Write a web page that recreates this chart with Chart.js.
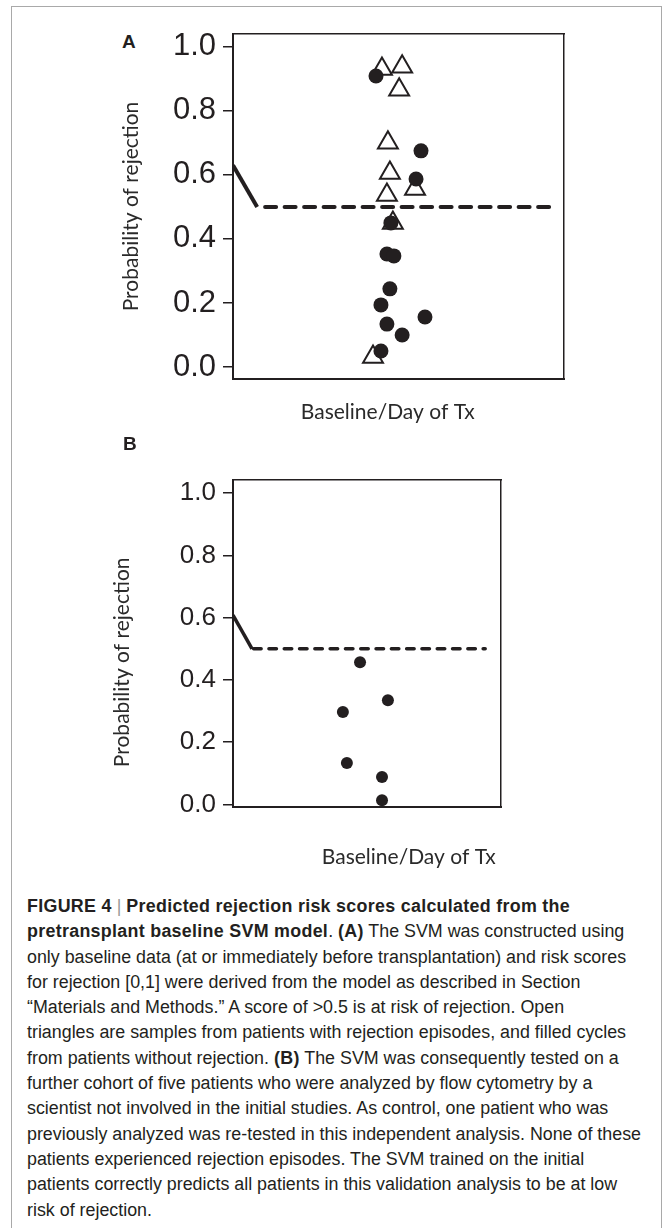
<!DOCTYPE html>
<html>
<head>
<meta charset="utf-8">
<script src="https://cdn.jsdelivr.net/npm/chart.js@4.4.1/dist/chart.umd.min.js"></script>
<style>
  body { margin: 0; background: #fff; }
  #frame { position: absolute; left: 11px; top: 6px; width: 651px; height: 1300px;
           border: 1.5px solid #a9a9a9; border-bottom: none; box-sizing: border-box; }
  canvas { position: absolute; left: 0; }
  .panel { position: absolute; font: bold 19px "Liberation Sans", Arial, sans-serif; color: #231f20; }
  #caption { position: absolute; left: 27px; top: 894px; white-space: nowrap;
             font: 17.85px/25.3px "Liberation Sans", Arial, sans-serif; color: #231f20; }
  #caption b { letter-spacing: 0.3px; }
  #caption .sep { font-weight: normal; color: #999; }
</style>
</head>
<body>
<div id="frame"></div>
<div class="panel" style="left:122px;top:31px">A</div>
<canvas id="chartA" width="664" height="440" style="top:0"></canvas>
<div class="panel" style="left:123px;top:433px">B</div>
<canvas id="chartB" width="664" height="440" style="top:440px"></canvas>
<div id="caption">
<b>FIGURE 4</b> <span class="sep">|</span> <b>Predicted rejection risk scores calculated from the</b><br>
<b>pretransplant baseline SVM model</b>. <b>(A)</b> The SVM was constructed using<br>
only baseline data (at or immediately before transplantation) and risk scores<br>
for rejection [0,1] were derived from the model as described in Section<br>
“Materials and Methods.” A score of &gt;0.5 is at risk of rejection. Open<br>
triangles are samples from patients with rejection episodes, and filled cycles<br>
from patients without rejection. <b>(B)</b> The SVM was consequently tested on a<br>
further cohort of five patients who were analyzed by flow cytometry by a<br>
scientist not involved in the initial studies. As control, one patient who was<br>
previously analyzed was re-tested in this independent analysis. None of these<br>
patients experienced rejection episodes. The SVM trained on the initial<br>
patients correctly predicts all patients in this validation analysis to be at low<br>
risk of rejection.
</div>
<script>
// ---- data ----
const probTicks = [0.0, 0.2, 0.4, 0.6, 0.8, 1.0];
const yTitle = 'Probability of rejection';
const xTitle = 'Baseline/Day of Tx';

// panel A: open triangles = rejection, filled dots = no rejection
const rejX = [45.0, 51.1, 50.2, 46.8, 47.4, 46.5, 55.0, 48.3, 42.3];
const rejY = [0.931, 0.938, 0.866, 0.70, 0.606, 0.537, 0.556, 0.45, 0.031];
const noRejX = [43.2, 56.8, 55.3, 47.7, 46.5, 48.6, 47.4, 44.7, 58.0, 46.5, 51.1, 44.7];
const noRejY = [0.909, 0.675, 0.587, 0.45, 0.353, 0.347, 0.244, 0.194, 0.156, 0.134, 0.10, 0.05];
// cut-off line (solid bit then dashed at 0.5)
const cutSolidXA = [0, 7.3], cutSolidYA = [0.63, 0.5];
const cutDashXA = [9.7, 96.4], cutDashYA = [0.5, 0.5];

// panel B: validation cohort
const valX = [47.4, 57.8, 41.0, 42.5, 55.6, 55.6];
const valY = [0.457, 0.335, 0.297, 0.133, 0.088, 0.014];
const cutSolidXB = [0, 7.1], cutSolidYB = [0.608, 0.5];
const cutDashXB = [7.7, 94.1], cutDashYB = [0.5, 0.5];

const ink = '#231f20';
const pts = (xs, ys) => xs.map((x, i) => ({x: x, y: ys[i]}));

function makeChart(id, cfg) {
    const fixW = w => (s => { s.width = w; });
    const fixH = h => (s => { s.height = h; });
    return new Chart(document.getElementById(id), {
        type: 'scatter',
        data: {
            datasets: [
                { // filled dots on top
                    data: pts(cfg.dotX, cfg.dotY), order: 0,
                    pointStyle: 'circle', pointRadius: cfg.dotR, borderWidth: 0,
                    backgroundColor: ink, borderColor: ink
                },
                { // open triangles
                    data: pts(cfg.triX, cfg.triY), order: 1,
                    pointStyle: 'triangle', pointRadius: 11.5, borderWidth: 2,
                    backgroundColor: '#fff', borderColor: ink
                },
                {
                    type: 'line', data: pts(cfg.solidX, cfg.solidY), order: 2,
                    showLine: true, pointRadius: 0, borderColor: ink, borderWidth: cfg.lineW,
                    borderCapStyle: 'butt', fill: false
                },
                {
                    type: 'line', data: pts(cfg.dashX, cfg.dashY), order: 2,
                    showLine: true, pointRadius: 0, borderColor: ink, borderWidth: cfg.lineW,
                    borderDash: cfg.dash, borderCapStyle: 'round', fill: false
                }
            ]
        },
        options: {
            responsive: false,
            animation: false,
            events: [],
            layout: { padding: cfg.pad },
            plugins: { legend: { display: false }, tooltip: { enabled: false } },
            scales: {
                x: {
                    type: 'linear', position: 'bottom', min: 0, max: 100,
                    ticks: { display: false },
                    grid: { display: false },
                    border: { display: true, color: ink, width: 2 },
                    title: {
                        display: true, text: cfg.xTitle, align: cfg.xAlign, color: '#2a2a2a',
                        font: { family: 'Lato', size: 21 },
                        padding: { top: 0, bottom: cfg.xTitlePad }
                    },
                    afterFit: fixH(cfg.xH)
                },
                y: {
                    type: 'linear', position: 'left', min: cfg.yMin, max: cfg.yMax,
                    afterBuildTicks: s => { s.ticks = probTicks.map(v => ({value: v})); },
                    ticks: {
                        color: ink, padding: 7,
                        font: { family: '"Liberation Sans", Arial', size: cfg.tickSize },
                        callback: v => Number(v).toFixed(1)
                    },
                    grid: { display: true, drawOnChartArea: false, drawTicks: true, tickLength: 10, color: ink, lineWidth: 1.5 },
                    border: { display: true, color: ink, width: 2 },
                    title: {
                        display: true, text: cfg.yTitle, color: '#2a2a2a',
                        font: { family: 'Lato', size: 21 },
                        padding: { top: cfg.yTitlePad, bottom: 0 }
                    },
                    afterFit: fixW(233)
                },
                // top and right edges of the box
                xTop: {
                    type: 'linear', axis: 'x', position: 'top', display: true,
                    ticks: { display: false }, grid: { display: false, drawTicks: false },
                    border: { display: true, color: ink, width: 1.5 },
                    afterFit: fixH(0)
                },
                yRight: {
                    type: 'linear', axis: 'y', position: 'right', display: true,
                    ticks: { display: false }, grid: { display: false, drawTicks: false },
                    border: { display: true, color: ink, width: 1.5 },
                    afterFit: fixW(0)
                }
            }
        }
    });
}

makeChart('chartA', {
    dotX: noRejX, dotY: noRejY, dotR: 7.5,
    triX: rejX, triY: rejY,
    solidX: cutSolidXA, solidY: cutSolidYA, dashX: cutDashXA, dashY: cutDashYA,
    lineW: 4, dash: [11, 8.5],
    yMin: -0.0375, yMax: 1.04, tickSize: 31,
    pad: { left: 0, top: 34, right: 100, bottom: 0 },
    xH: 61, xTitle: xTitle + '    ', xAlign: 'center', xTitlePad: 15.4,
    yTitle: yTitle, yTitlePad: 118.4
});

makeChart('chartB', {
    dotX: valX, dotY: valY, dotR: 6,
    triX: [], triY: [],
    solidX: cutSolidXB, solidY: cutSolidYB, dashX: cutDashXB, dashY: cutDashYB,
    lineW: 3.5, dash: [7.5, 7.8],
    yMin: -0.008, yMax: 1.042, tickSize: 26,
    pad: { left: 0, top: 40, right: 163, bottom: 0 },
    xH: 73, xTitle: xTitle + ' ', xAlign: 'end', xTitlePad: 10.4,
    yTitle: yTitle + '       ', yTitlePad: 109.4
});
</script>
</body>
</html>
